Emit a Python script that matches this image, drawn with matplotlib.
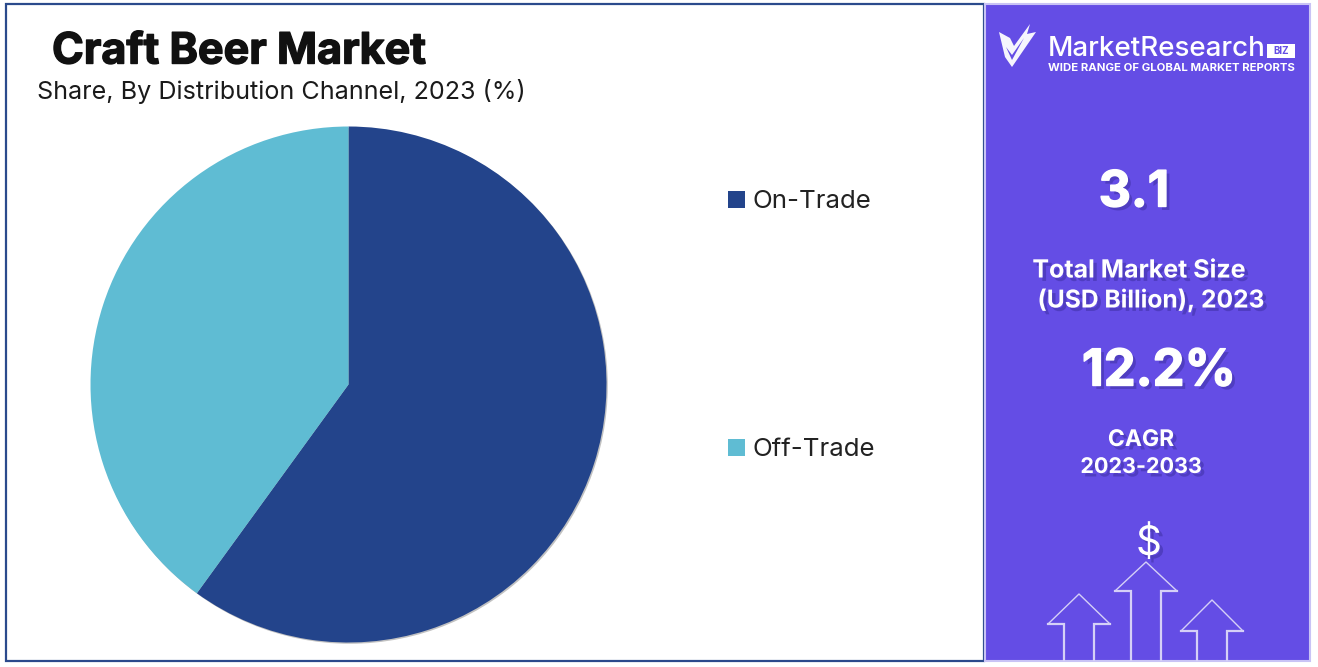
import matplotlib
matplotlib.use("Agg")
import matplotlib.pyplot as plt
import matplotlib.patheffects as pe
from matplotlib.patches import Rectangle, Polygon, Circle

W, H = 1318, 667

# data
channels = ["On-Trade", "Off-Trade"]
shares = [60, 40]
colors = ["#23448B", "#5FBCD3"]
legend_y = [199, 447]

panel_color = "#644DE5"
border_color = "#2B4A8C"

plt.rcParams['font.family'] = ['Inter', 'DejaVu Sans']

fig = plt.figure(figsize=(W / 100, H / 100), dpi=100, facecolor="white")

# overlay in pixel coordinates for frame, panel and texts
bg = fig.add_axes([0, 0, 1, 1])
bg.set_xlim(0, W)
bg.set_ylim(H, 0)
bg.axis("off")

bg.add_patch(Rectangle((6, 4), 978, 657, fc="white", ec=border_color, lw=1.6))
bg.add_patch(Rectangle((985, 4), 325, 657, fc=panel_color, ec="#C9C3F5", lw=1.5))

# pie, soft shadow drawn behind it
cx, cy, r = 348.5, 384.5, 258
ax = fig.add_axes([(cx - r) / W, 1 - (cy + r) / H, 2 * r / W, 2 * r / H])
ax.add_patch(Circle((0.005, -0.005), 1.0, fc="#999999", ec="none", alpha=0.6, clip_on=False, zorder=0))
ax.pie(shares, colors=colors, startangle=90, counterclock=False, radius=1.0)
ax.set_xlim(-1, 1)
ax.set_ylim(-1, 1)

# titles
t = bg.text(52, 52, "Craft Beer Market", fontsize=31, fontweight="bold", color="#111111", va="center", ha="left")
t.set_path_effects([pe.withStroke(linewidth=1.0, foreground="#111111")])
bg.text(37, 92, "Share, By Distribution Channel, 2023 (%)", fontsize=18.1, color="#1a1a1a", va="center", ha="left")

# legend
for name, col, y in zip(channels, colors, legend_y):
    bg.add_patch(Rectangle((728, y - 8), 17, 17, fc=col, ec="none"))
    bg.text(752, y + 2, name, fontsize=18.6, color="#222222", va="center", ha="left")


def panel_text(x, y, s, size, weight="bold", ha="center", heavy=False):
    t = bg.text(x, y, s, fontsize=size, fontweight=weight, color="white", va="center", ha=ha)
    effects = [pe.SimplePatchShadow(offset=(2.5, -2.5), shadow_rgbFace="#2a2080", alpha=0.35)]
    if heavy:
        effects.append(pe.Stroke(linewidth=1.0, foreground="white"))
    effects.append(pe.Normal())
    t.set_path_effects(effects)
    return t


# side panel texts
panel_text(1134, 193, "3.1", 36, heavy=True)
panel_text(1139, 271, "Total Market Size", 18)
panel_text(1151, 300, "(USD Billion), 2023", 17.7)
panel_text(1159, 372, "12.2%", 36.5, heavy=True)
panel_text(1141, 440, "CAGR", 16.5)
panel_text(1141, 467, "2023-2033", 15.5)
panel_text(1149, 544, "$", 29, weight="normal")

# logo
bg.add_patch(Polygon([(999, 32), (1010, 38), (1014, 46), (1030, 24), (1027, 34), (1036, 32),
                      (1012, 67), (1005, 57)], closed=True, fc="white", ec="none", alpha=0.95))
bg.add_patch(Polygon([(1006, 47), (1012, 55), (1024, 38), (1012, 60)], closed=True, fc=panel_color, ec="none"))
bg.text(1048, 49, "MarketResearch", fontsize=20, color="white", va="center", ha="left", fontweight="medium")
bg.add_patch(Rectangle((1267, 44), 28, 14, fc="white", ec="none"))
bg.text(1281, 51, "BIZ", fontsize=7, color=panel_color, va="center", ha="center", fontweight="bold")
bg.text(1048, 68, "WIDE RANGE OF GLOBAL MARKET REPORTS", fontsize=8.2, color="white", va="center", ha="left", fontweight="bold")

# arrows at the bottom of the panel
arrow_line = "#D5D0F7"
for tip_x, tip_y, base_y in [(1079, 594, 624), (1146, 562, 591), (1212, 600, 631)]:
    half, stem = 31, 15
    bg.plot([tip_x - half, tip_x, tip_x + half], [base_y, tip_y, base_y], color=arrow_line, lw=1.0)
    bg.plot([tip_x - half, tip_x - stem, tip_x - stem], [base_y, base_y, 660], color=arrow_line, lw=1.6, solid_joinstyle="miter")
    bg.plot([tip_x + half, tip_x + stem, tip_x + stem], [base_y, base_y, 660], color=arrow_line, lw=1.6, solid_joinstyle="miter")

fig.savefig("out.png", dpi=100)
